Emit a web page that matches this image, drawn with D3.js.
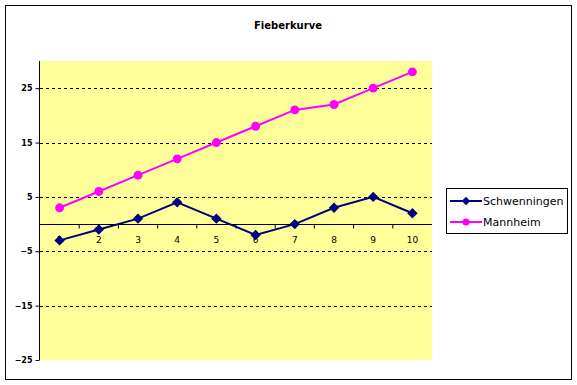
<!DOCTYPE html>
<html>
<head>
<meta charset="utf-8">
<script src="https://cdn.jsdelivr.net/npm/d3@7/dist/d3.min.js"></script>
<style>
  body { margin: 0; background: #fff; }
  text { font-family: "DejaVu Sans", Verdana, sans-serif; }
</style>
</head>
<body>
<div id="chart"></div>
<script>
var days = ["1", "2", "3", "4", "5", "6", "7", "8", "9", "10"];
var schwenningen = [-3, -1, 1, 4, 1, -2, 0, 3, 5, 2];
var mannheim = [3, 6, 9, 12, 15, 18, 21, 22, 25, 28];
var yTicks = [-25, -15, -5, 5, 15, 25];

// diamond = square turned 45 degrees
var series = [
    { name: "Schwenningen", values: schwenningen, color: "#000080", shape: d3.symbolSquare, size: 54, rot: 45 },
    { name: "Mannheim", values: mannheim, color: "#ff00ff", shape: d3.symbolCircle, size: 62, rot: 0 }
];

var svg = d3.select("#chart")
    .append("svg")
    .attr("width", 577)
    .attr("height", 385);

// outer frame
svg.append("rect")
    .attr("x", 5.5)
    .attr("y", 5.5)
    .attr("width", 566)
    .attr("height", 374)
    .attr("fill", "#fff")
    .attr("stroke", "#000");

svg.append("text")
    .attr("x", 288)
    .attr("y", 29)
    .attr("text-anchor", "middle")
    .style("font-size", "10px")
    .style("font-weight", "bold")
    .text("Fieberkurve");

var plotL = 40, plotR = 432, plotT = 61, plotB = 360;

var x = d3.scaleBand().domain(days).range([plotL, plotR]);
var y = d3.scaleLinear().domain([-25, 30]).range([plotB, plotT]);

// plot area
svg.append("rect")
    .attr("x", plotL)
    .attr("y", plotT)
    .attr("width", plotR - plotL)
    .attr("height", plotB - plotT)
    .attr("fill", "#ffff99")
    .attr("stroke", "#eeffcc")
    .attr("stroke-width", 0.6);

// gridlines
svg.selectAll("line.grid")
    .data(yTicks.filter(function(d) { return d > -25; }))
    .enter()
    .append("line")
    .attr("class", "grid")
    .attr("x1", plotL)
    .attr("x2", plotR)
    .attr("y1", function(d) { return Math.round(y(d)) + 0.5; })
    .attr("y2", function(d) { return Math.round(y(d)) + 0.5; })
    .attr("stroke", "#000")
    .attr("stroke-dasharray", "3,3");

// y axis
var yAxis = svg.append("g")
    .attr("transform", "translate(" + (plotL - 0.5) + ",0)")
    .call(d3.axisLeft(y).tickValues(yTicks).tickSize(4).tickSizeOuter(0));
yAxis.select(".domain").attr("d", "M0," + plotT + "V" + plotB);
yAxis.selectAll("text")
    .style("font-size", "8px")
    .style("font-weight", "bold")
    .attr("x", -7);

// x axis at zero
var xAxis = svg.append("g")
    .attr("transform", "translate(0," + (Math.round(y(0)) + 0.5) + ")")
    .call(d3.axisBottom(x).tickSize(0).tickSizeOuter(0));
xAxis.select(".domain").attr("d", "M" + plotL + ",0H" + plotR);
xAxis.selectAll("text")
    .style("font-size", "9px")
    .attr("y", 12);
xAxis.selectAll("line.sep")
    .data(days.slice(1))
    .enter()
    .append("line")
    .attr("class", "sep")
    .attr("x1", function(d) { return x(d); })
    .attr("x2", function(d) { return x(d); })
    .attr("y1", 0)
    .attr("y2", 4)
    .attr("stroke", "#000");

var line = d3.line()
    .x(function(d, i) { return x(days[i]) + x.bandwidth() / 2; })
    .y(function(d) { return y(d); });

series.forEach(function(s) {
    svg.append("path")
        .datum(s.values)
        .attr("d", line)
        .attr("fill", "none")
        .attr("stroke", s.color)
        .attr("stroke-width", 2);

    svg.selectAll("path.m-" + s.name)
        .data(s.values)
        .enter()
        .append("path")
        .attr("class", "m-" + s.name)
        .attr("d", d3.symbol().type(s.shape).size(s.size))
        .attr("transform", function(d, i) {
            return "translate(" + (x(days[i]) + x.bandwidth() / 2) + "," + y(d) + ") rotate(" + s.rot + ")";
        })
        .attr("fill", s.color);
});

// legend
var legend = svg.append("g").attr("transform", "translate(446,188)");
legend.append("rect")
    .attr("x", 0.5)
    .attr("y", 0.5)
    .attr("width", 121)
    .attr("height", 45)
    .attr("fill", "#fff")
    .attr("stroke", "#000");

var item = legend.selectAll("g.item")
    .data(series)
    .enter()
    .append("g")
    .attr("class", "item")
    .attr("transform", function(d, i) { return "translate(0," + (13 + i * 21) + ")"; });

item.append("line")
    .attr("x1", 4)
    .attr("x2", 36)
    .attr("stroke", function(d) { return d.color; })
    .attr("stroke-width", 2);
item.append("path")
    .attr("d", function(d) { return d3.symbol().type(d.shape).size(d.size * 0.65)(); })
    .attr("transform", function(d) { return "translate(20,0) rotate(" + d.rot + ")"; })
    .attr("fill", function(d) { return d.color; });
item.append("text")
    .attr("x", 37)
    .attr("y", 4)
    .style("font-size", "11px")
    .text(function(d) { return d.name; });
</script>
</body>
</html>
